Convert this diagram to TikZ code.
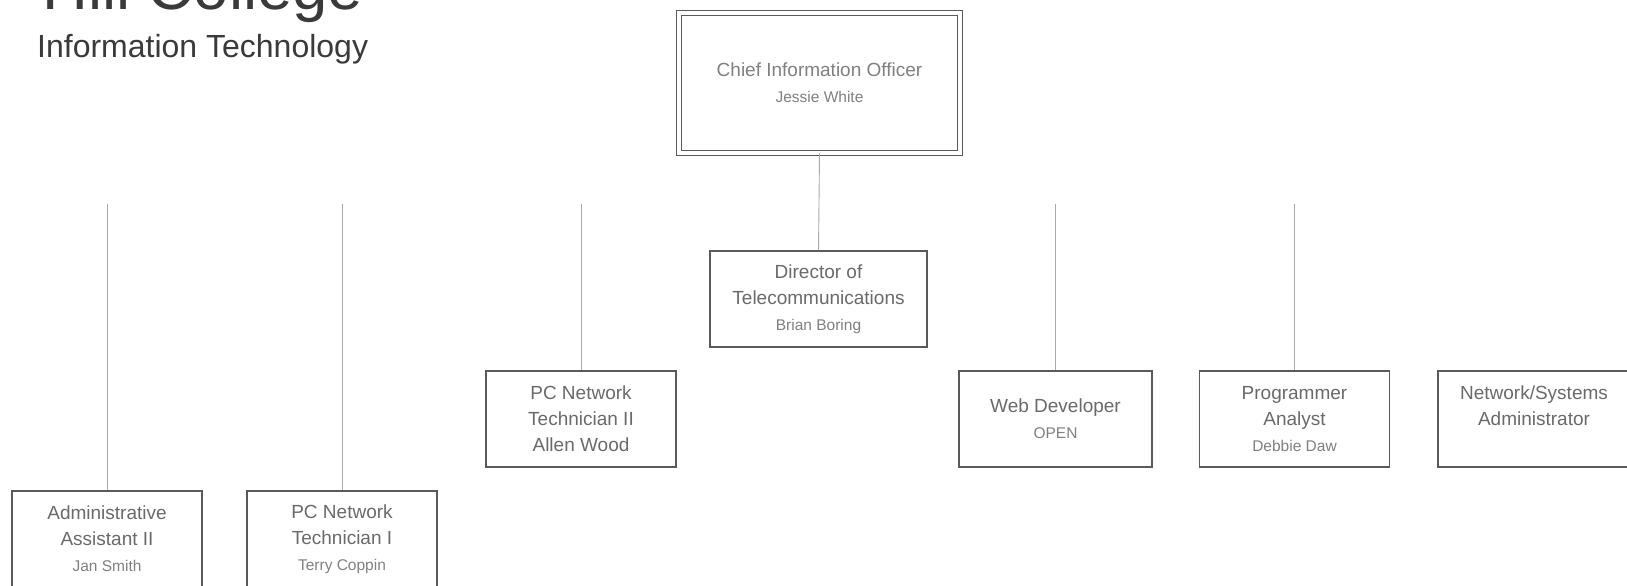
\documentclass[tikz,border=0pt]{standalone}
\usepackage{fontspec}
\setmainfont{Liberation Sans}
\definecolor{boxline}{HTML}{5A5A5A}
\definecolor{boxtext}{HTML}{6A6A6A}
\definecolor{nametext}{HTML}{808080}
\definecolor{linkline}{HTML}{A8A8A8}
\definecolor{titletext}{HTML}{3A3A3A}
\newcommand\staffname[1]{{\fontsize{15.5}{26}\selectfont\color{nametext}#1}}
\begin{document}
\begin{tikzpicture}[x=1pt,y=-1pt,
  post/.style={draw=boxline, line width=1.3pt, fill=white,
    minimum width=190pt, minimum height=96pt, inner sep=0pt,
    align=center, text=boxtext, font=\fontsize{19}{26}\selectfont},
  chief/.style={post, double=white, double distance=4.2pt, line width=1.2pt,
    minimum width=281pt, minimum height=140pt, text=nametext},
  conn/.style={draw=linkline, line width=0.9pt},
  heading/.style={anchor=base west, inner sep=0pt, text=titletext}]
\useasboundingbox (0,0) rectangle (1627,586);
\clip (0,0) rectangle (1627,586);
\fill[white] (0,0) rectangle (1627,586);

% titles
\node[heading, font=\fontsize{63.5}{63.5}\selectfont] (college) at (42,10) {Hill College};
\node[heading, font=\fontsize{32}{32}\selectfont] (dept) at (37,57) {Information Technology};

% positions
\node[chief] (cio) at (819.5,83) {Chief Information Officer\\\staffname{Jessie White}};
\node[post, minimum width=217pt] (dir) at (818.5,299) {Director of\\Telecommunications\\\staffname{Brian Boring}};
\node[post] (pc2) at (581,419) {PC Network\\Technician II\\Allen Wood};
\node[post, minimum width=193pt] (web) at (1055.5,419) {Web Developer\\\staffname{OPEN}};
\node[post] (prog) at (1294.5,419) {Programmer\\Analyst\\\staffname{Debbie Daw}};
\node[post, minimum width=192pt] (net) at (1534,419) {Network/Systems\\Administrator\\\phantom{Allen Wood}};
\node[post] (admin) at (107,539) {Administrative\\Assistant II\\\staffname{Jan Smith}};
\node[post] (pc1) at (342,539) {PC Network\\Technician I\\\staffname{Terry Coppin}};

% free upper ends of the reporting lines
\coordinate (ladmin) at (107,204);
\coordinate (lpc1) at (342,204);
\coordinate (lpc2) at (581,204);
\coordinate (lweb) at (1055.5,204);
\coordinate (lprog) at (1294.5,204);

% reporting lines
\draw[conn] (cio.south) -- (dir.north);
\draw[conn] (ladmin) -- (admin.north);
\draw[conn] (lpc1) -- (pc1.north);
\draw[conn] (lpc2) -- (pc2.north);
\draw[conn] (lweb) -- (web.north);
\draw[conn] (lprog) -- (prog.north);
\end{tikzpicture}
\end{document}
